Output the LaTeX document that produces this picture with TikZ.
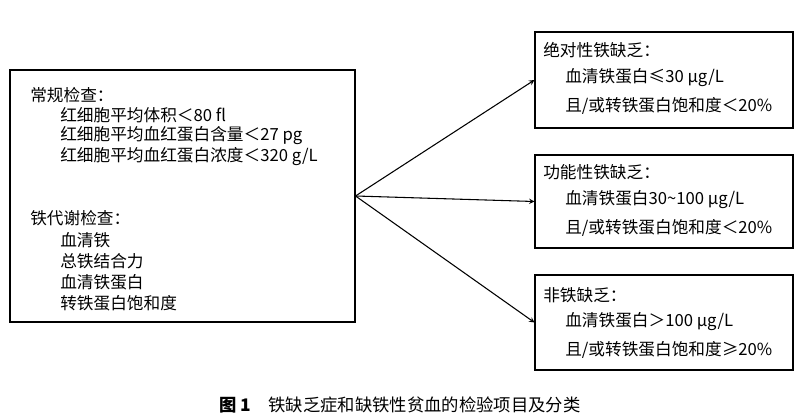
\documentclass[tikz,border=0pt]{standalone}
\usepackage{fontspec}
\setmainfont{Noto Sans CJK SC}
\tikzset{
    box/.style={draw, thick, inner sep=0pt},
    txt/.style={anchor=west, inner sep=0pt, font=\fontsize{12.5}{15}\selectfont},
    arr/.style={->, >=stealth, thick}
}
\begin{document}
\begin{tikzpicture}[x=0.75pt, y=-0.75pt]
    \useasboundingbox (0,0) rectangle (800,420);

    % Left box: examinations
    \node[box, minimum width=345*0.75pt, minimum height=252*0.75pt] (exam) at (182.5,196) {};
    \node[txt] at (30,95) {常规检查：};
    \node[txt] at (60,115) {红细胞平均体积＜80 fl};
    \node[txt] at (60,136) {红细胞平均血红蛋白含量＜27 pg};
    \node[txt] at (60,157) {红细胞平均血红蛋白浓度＜320 g/L};
    \node[txt] at (30,218) {铁代谢检查：};
    \node[txt] at (60,240) {血清铁};
    \node[txt] at (60,261) {总铁结合力};
    \node[txt] at (60,282) {血清铁蛋白};
    \node[txt] at (60,303) {转铁蛋白饱和度};

    % Right boxes: classification
    \node[box, minimum width=258*0.75pt, minimum height=96*0.75pt] (absolute) at (664,80) {};
    \node[txt] at (543,50) {绝对性铁缺乏：};
    \node[txt] at (565,78) {血清铁蛋白≤30 μg/L};
    \node[txt] at (565,106) {且/或转铁蛋白饱和度＜20\%};

    \node[box, minimum width=258*0.75pt, minimum height=93*0.75pt] (functional) at (664,201.5) {};
    \node[txt] at (543,172) {功能性铁缺乏：};
    \node[txt] at (565,200) {血清铁蛋白30\textasciitilde 100 μg/L};
    \node[txt] at (565,228) {且/或转铁蛋白饱和度＜20\%};

    \node[box, minimum width=258*0.75pt, minimum height=95*0.75pt] (none) at (664,322.5) {};
    \node[txt] at (543,295) {非铁缺乏：};
    \node[txt] at (565,322) {血清铁蛋白＞100 μg/L};
    \node[txt] at (565,350) {且/或转铁蛋白饱和度≥20\%};

    % Connectors
    \draw[arr] (exam.east) -- (absolute.west);
    \draw[arr] (exam.east) -- (functional.west);
    \draw[arr] (exam.east) -- (none.west);

    % Caption
    \node[font=\fontsize{13}{15}\selectfont] (caption) at (400,405) {\textbf{图 1}\quad 铁缺乏症和缺铁性贫血的检验项目及分类};
\end{tikzpicture}
\end{document}
